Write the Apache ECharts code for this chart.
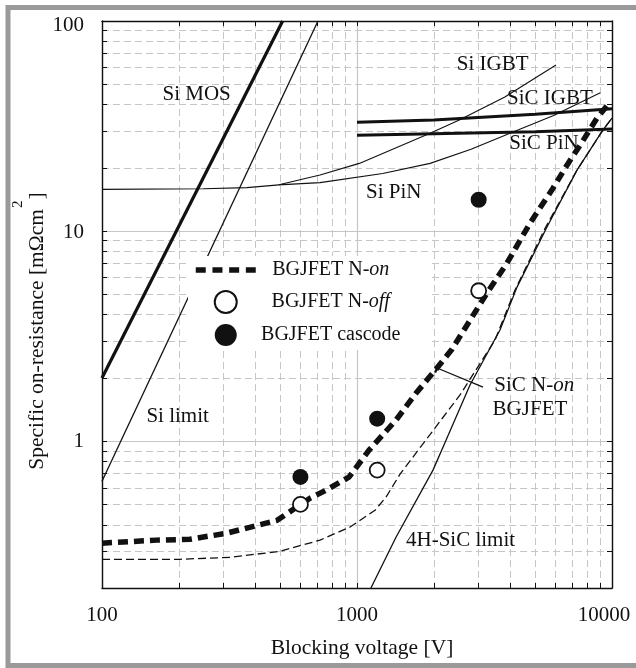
<!DOCTYPE html>
<html>
<head>
<meta charset="utf-8">
<script src="https://cdn.jsdelivr.net/npm/echarts@6/dist/echarts.min.js"></script>
<style>
  html, body { margin: 0; padding: 0; background: #fff; }
  #chart { width: 636px; height: 668px; }
</style>
</head>
<body>
<div id="chart"></div>
<script>
// Specific on-resistance [mΩcm²] versus blocking voltage [V] for Si / SiC power devices

// Technology curves: [blocking voltage V, on-resistance mΩcm²]
const siMos = [[100, 2.0], [511, 100]];
const siLimit = [[100, 0.645], [703, 100]];
const siPin = [[100, 15.8], [250, 15.9], [370, 16.1], [494, 16.6], [716, 17.0], [1261, 18.8],
  [1935, 21.0], [2800, 24.5], [3981, 29.2], [5870, 35.4], [9000, 45.5]];
const siIgbt = [[494, 16.6], [716, 18.5], [1021, 21.0], [1935, 29.2], [2519, 33.8], [3800, 43.5], [6030, 61.7]];
const sicIgbt = [[1000, 33.0], [2000, 33.8], [5000, 36.0], [10000, 38.2]];
const sicPin = [[1000, 28.6], [2000, 29.1], [5000, 29.7], [10000, 30.6]];
const sic4hLimit = [[1134, 0.2], [1422, 0.349], [1986, 0.728], [2234, 1.01], [2774, 1.85], [3636, 3.38],
  [4242, 5.41], [5559, 10.45], [7290, 19.5], [9219, 30.3], [10000, 34.5]];
const sicNOnModel = [[100, 0.274], [202, 0.274], [318, 0.28], [499, 0.299], [716, 0.338], [939, 0.39],
  [1177, 0.469], [1299, 0.541], [1475, 0.697], [1848, 1.0], [2535, 1.66], [3477, 3.03], [4165, 5.24],
  [5464, 10.3], [7290, 19.5], [9219, 30.3], [10000, 34.5]];
const bgjfetNOn = [[100, 0.327], [164, 0.338], [221, 0.341], [309, 0.365], [486, 0.42], [654, 0.535],
  [756, 0.584], [930, 0.674], [1115, 0.906], [1422, 1.26], [1703, 1.69], [2059, 2.23], [2358, 2.74],
  [3235, 5.07], [3873, 7.04], [4768, 10.9], [5870, 16.0], [6660, 20.6], [7627, 26.5], [8736, 34.5], [9822, 41.1]];

// Measured devices
const bgjfetNOff = [[600, 0.50], [1200, 0.728], [3000, 5.2]];
const bgjfetCascode = [[600, 0.676], [1200, 1.28], [3000, 14.1]];

// Pointer from the "SiC N-on BGJFET" note to its curve
const pointerLine = [[2059, 2.23], [3120, 1.81]];

// Curve names written on the plot, and where they sit
const curveLabels = ['Si MOS', 'Si IGBT', 'SiC IGBT', 'SiC PiN', 'Si PiN', 'Si limit', '4H-SiC limit', 'SiC N-on', 'BGJFET'];
const curveLabelAt = [[235, 44.5], [3405, 62.2], [5712, 42.9], [5413, 26.2], [1393, 15.2], [198, 1.31],
  [2547, 0.335], [4956, 1.85], [4767, 1.41]];

// Axis ticks and labels
const xTickValues = [100, 200, 300, 400, 500, 600, 700, 800, 900, 1000, 2000, 3000, 4000, 5000, 6000, 7000, 8000, 9000, 10000];
const xTickLabels = [100, 1000, 10000];
const yTickValues = [0.2, 0.3, 0.4, 0.5, 0.6, 0.7, 0.8, 0.9, 1, 2, 3, 4, 5, 6, 7, 8, 9, 10, 20, 30, 40, 50, 60, 70, 80, 90, 100];
const yTickLabels = [1, 10, 100];

const FONT = "'Liberation Serif', 'Times New Roman', serif";
const INK = '#111';
const GRID = '#c6c6c6';

const chart = echarts.init(document.getElementById('chart'), null, { renderer: 'canvas' });

function tickAxis(extra) {
  return Object.assign({
    type: 'log',
    logBase: 10,
    axisLine: { show: true, onZero: false, lineStyle: { color: INK, width: 1.4 } },
    axisTick: { show: true, inside: true, length: 5, lineStyle: { color: INK, width: 1 } },
    axisLabel: { show: false },
    splitLine: { show: false },
    minorTick: { show: false },
    minorSplitLine: { show: false }
  }, extra);
}

const axisLabelStyle = { fontFamily: FONT, fontSize: 21, color: INK };

function curve(name, data, width, dash, z) {
  return {
    name: name, type: 'line', data: data, symbol: 'none', smooth: false, z: z || 3,
    lineStyle: { color: INK, width: width, type: dash || 'solid', cap: 'butt' },
    itemStyle: { color: INK },
    silent: true, emphasis: { disabled: true }
  };
}

const option = {
  animation: false,
  backgroundColor: '#fff',
  grid: { left: 102, top: 21, width: 510, height: 567, containLabel: false },
  xAxis: [
    tickAxis({
      position: 'bottom', min: 100, max: 10000,
      axisTick: { show: true, inside: true, length: 5, customValues: xTickValues, lineStyle: { color: INK, width: 1 } },
      axisLabel: {
        show: true, customValues: xTickLabels, margin: 17, ...axisLabelStyle,
        formatter: function (v) {
          const t = String(Math.round(v));
          return Math.round(v) === 10000 ? '{r|' + t + '}' : '{n|' + t + '}';
        },
        rich: {
          n: { fontFamily: FONT, fontSize: 21, color: INK },
          r: { fontFamily: FONT, fontSize: 21, color: INK, padding: [0, 16, 0, 0] }
        }
      },
      splitLine: { show: true, lineStyle: { color: GRID, width: 1, type: [7, 4] } },
      name: 'Blocking voltage [V]', nameLocation: 'middle', nameGap: 49,
      nameTextStyle: { fontFamily: FONT, fontSize: 21.5, color: INK, padding: [0, 0, 0, 10] }
    }),
    tickAxis({
      position: 'top', min: 100, max: 10000,
      axisTick: { show: true, inside: true, length: 5, customValues: xTickValues, lineStyle: { color: INK, width: 1 } }
    }),
    tickAxis({
      position: 'bottom', min: 100, max: 10000,
      axisLine: { show: false }, axisTick: { show: false },
      splitLine: { show: true, lineStyle: { color: GRID, width: 1.2, type: 'solid' } }
    })
  ],
  yAxis: [
    tickAxis({
      position: 'left', min: 0.2, max: 100,
      axisTick: { show: true, inside: true, length: 5, customValues: yTickValues, lineStyle: { color: INK, width: 1 } },
      axisLabel: {
        show: true, customValues: yTickLabels, margin: 18, ...axisLabelStyle,
        formatter: function (v) {
          const n = Math.round(v);
          if (n === 100) return '{d|100}';
          if (n === 10) return '{e|10}';
          return '{n|' + n + '}';
        },
        rich: {
          n: { fontFamily: FONT, fontSize: 21, color: INK },
          e: { fontFamily: FONT, fontSize: 21, color: INK, padding: [3, 0, 0, 0] },
          d: { fontFamily: FONT, fontSize: 21, color: INK, padding: [8, 0, 0, 0] }
        }
      },
      splitLine: { show: true, lineStyle: { color: GRID, width: 1, type: [7, 4] } }
    }),
    tickAxis({
      position: 'right', min: 0.2, max: 100,
      axisTick: { show: true, inside: true, length: 5, customValues: yTickValues, lineStyle: { color: INK, width: 1 } }
    }),
    tickAxis({
      position: 'left', min: 0.2, max: 100,
      axisLine: { show: false }, axisTick: { show: false },
      splitLine: { show: true, lineStyle: { color: GRID, width: 1.2, type: 'solid' } }
    })
  ],
  legend: {
    orient: 'vertical',
    left: 188, top: 256,
    padding: [4, 28, 4, 5],
    backgroundColor: '#fff',
    itemWidth: 60, itemHeight: 22, itemGap: 10,
    selectedMode: false,
    z: 6,
    textStyle: {
      fontFamily: FONT, fontSize: 20, color: INK, width: 140,
      rich: {
        n: { fontFamily: FONT, fontSize: 20, color: INK, align: 'center' },
        i: { fontFamily: FONT, fontSize: 20, color: INK, fontStyle: 'italic', align: 'center' }
      }
    },
    formatter: function (name) {
      if (name === 'BGJFET N-on') return '{n|BGJFET N-}{i|on}';
      if (name === 'BGJFET N-off') return '{n|BGJFET N-}{i|off}';
      return '{n|' + name + '}';
    },
    data: [
      {
        name: 'BGJFET N-on',
        lineStyle: { color: INK, width: 5.5, type: [10, 6.7], cap: 'butt' },
        itemStyle: { color: 'rgba(0,0,0,0)', borderColor: 'rgba(0,0,0,0)', borderWidth: 0 }
      },
      { name: 'BGJFET N-off', icon: 'circle', itemStyle: { color: '#fff', borderColor: INK, borderWidth: 2, opacity: 1 } },
      { name: 'BGJFET cascode', icon: 'circle', itemStyle: { color: INK, borderWidth: 0, opacity: 1 } }
    ]
  },
  graphic: [
    {
      type: 'rect', silent: true, z: 10,
      shape: { x: 8, y: 7.5, width: 700, height: 658 },
      style: { fill: 'none', stroke: '#9a9a9a', lineWidth: 5 }
    },
    {
      type: 'text', silent: true, z: 10,
      x: 29.5, y: 331, rotation: Math.PI / 2,
      style: {
        text: '{m|Specific on-resistance [mΩcm}{s|2}{m|]}',
        align: 'center', verticalAlign: 'middle',
        rich: {
          m: { fontFamily: FONT, fontSize: 21.5, fill: INK, verticalAlign: 'bottom' },
          s: { fontFamily: FONT, fontSize: 15, fill: INK, verticalAlign: 'bottom', padding: [0, 1, 22, 1] }
        }
      }
    }
  ],
  series: [
    curve('Si MOS', siMos, 3.2),
    curve('Si limit', siLimit, 1.3),
    curve('Si PiN', siPin, 1.1),
    curve('Si IGBT', siIgbt, 1.1),
    curve('SiC IGBT', sicIgbt, 3.0),
    curve('SiC PiN', sicPin, 3.0),
    curve('4H-SiC limit', sic4hLimit, 1.3),
    curve('SiC N-on model', sicNOnModel, 1.3, [8, 4]),
    curve('BGJFET N-on', bgjfetNOn, 5.5, [10, 6], 4),
    {
      name: 'pointer', type: 'line', silent: true, z: 4,
      data: [
        { value: pointerLine[0] },
        { value: pointerLine[1], symbol: 'none' }
      ],
      symbol: 'rect', symbolSize: [2.4, 10], symbolRotate: -22, showSymbol: true,
      itemStyle: { color: INK, opacity: 1 },
      lineStyle: { color: INK, width: 1.3 },
      emphasis: { disabled: true }
    },
    {
      name: 'BGJFET N-off', type: 'scatter', data: bgjfetNOff, z: 5, silent: true,
      symbol: 'circle', symbolSize: 15,
      itemStyle: { color: '#fff', borderColor: INK, borderWidth: 1.8, opacity: 1 },
      emphasis: { disabled: true }
    },
    {
      name: 'BGJFET cascode', type: 'scatter', data: bgjfetCascode, z: 5, silent: true,
      symbol: 'circle', symbolSize: 16,
      itemStyle: { color: INK, opacity: 1 },
      emphasis: { disabled: true }
    },
    {
      name: 'curve labels', type: 'scatter', z: 5, silent: true,
      symbolSize: 0,
      itemStyle: { opacity: 1, color: INK },
      data: curveLabels.map(function (t, i) { return { name: t, value: curveLabelAt[i] }; }),
      label: {
        show: true, position: 'inside', align: 'center', verticalAlign: 'middle',
        fontFamily: FONT, fontSize: 21, color: INK, opacity: 1,
        formatter: function (p) {
          if (p.name === 'SiC N-on') return '{n|SiC N-}{i|on}';
          return '{n|' + p.name + '}';
        },
        rich: {
          n: { fontFamily: FONT, fontSize: 21, color: INK },
          i: { fontFamily: FONT, fontSize: 21, color: INK, fontStyle: 'italic' }
        }
      },
      emphasis: { disabled: true }
    }
  ]
};

chart.setOption(option);
</script>
</body>
</html>
